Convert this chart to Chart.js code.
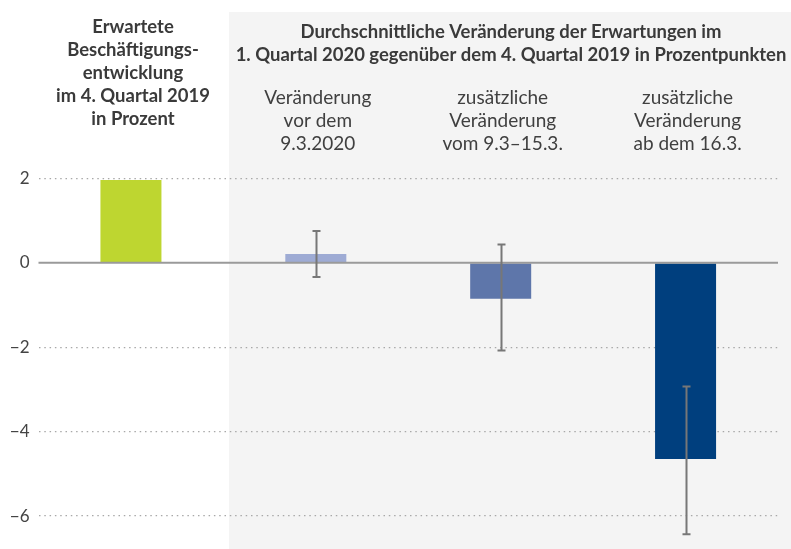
<!DOCTYPE html>
<html>
<head>
<meta charset="utf-8">
<script src="https://cdn.jsdelivr.net/npm/chart.js@4.4.1/dist/chart.umd.min.js"></script>
<style>
  html, body { margin: 0; padding: 0; background: #ffffff; }
  #wrap { width: 791px; height: 549px; position: relative; }
</style>
</head>
<body>
<div id="wrap"><canvas id="c"></canvas></div>
<script>
// ---- data ----
const categories = ['Erwartete Beschäftigungsentwicklung', 'Veränderung vor dem 9.3.2020', 'zusätzliche Veränderung vom 9.3–15.3.', 'zusätzliche Veränderung ab dem 16.3.'];
const values = [1.96, 0.21, -0.85, -4.65];
const errLow = [null, -0.34, -2.08, -6.43];
const errHigh = [null, 0.75, 0.43, -2.93];
const barColors = ['#bed630', '#9eabd4', '#5e76aa', '#003f7e'];
const yTicks = [2, 0, -2, -4, -6];
const leftHeader = ['Erwartete', 'Beschäftigungs-', 'entwicklung', 'im 4. Quartal 2019', 'in Prozent'];
const panelTitle = ['Durchschnittliche Veränderung der Erwartungen im', '1. Quartal 2020 gegenüber dem 4. Quartal 2019 in Prozentpunkten'];
const catLabels = [null, ['Veränderung', 'vor dem', '9.3.2020'], ['zusätzliche', 'Veränderung', 'vom 9.3–15.3.'], ['zusätzliche', 'Veränderung', 'ab dem 16.3.']];

const FAMILY = 'Lato, "Noto Sans", sans-serif';

function fitSize(ctx, text, weight, targetW, base) {
  ctx.font = weight + ' ' + base + 'px ' + FAMILY;
  const w = ctx.measureText(text).width;
  return base * targetW / w;
}

const decor = {
  id: 'decor',
  beforeDraw(chart) {
    const ctx = chart.ctx;
    ctx.save();
    ctx.fillStyle = '#ffffff';
    ctx.fillRect(0, 0, chart.width, chart.height);
    ctx.fillStyle = '#f4f4f4';
    ctx.fillRect(229, 12, chart.width - 229, chart.height - 12);
    ctx.restore();
  },
  afterDatasetsDraw(chart) {
    const ctx = chart.ctx;
    const y = chart.scales.y, x = chart.scales.x;
    const a = chart.chartArea;
    ctx.save();
    const y0 = y.getPixelForValue(0);
    ctx.strokeStyle = '#9a9a9a';
    ctx.lineWidth = 2;
    ctx.beginPath();
    ctx.moveTo(a.left, y0);
    ctx.lineTo(a.right, y0);
    ctx.stroke();
    ctx.strokeStyle = '#777777';
    ctx.lineWidth = 2;
    for (let i = 0; i < values.length; i++) {
      if (errLow[i] === null) continue;
      const cx = Math.round(x.getPixelForValue(i)) + 0.5;
      const yl = y.getPixelForValue(errLow[i]);
      const yh = y.getPixelForValue(errHigh[i]);
      ctx.beginPath();
      ctx.moveTo(cx, yh); ctx.lineTo(cx, yl);
      ctx.moveTo(cx - 4, yh); ctx.lineTo(cx + 4, yh);
      ctx.moveTo(cx - 4, yl); ctx.lineTo(cx + 4, yl);
      ctx.stroke();
    }
    ctx.restore();
  },
  afterDraw(chart) {
    const ctx = chart.ctx;
    const x = chart.scales.x;
    ctx.save();
    ctx.textAlign = 'center';
    ctx.textBaseline = 'alphabetic';
    const bs = fitSize(ctx, panelTitle[1], 'bold', 551, 16);
    ctx.font = 'bold ' + bs.toFixed(2) + 'px ' + FAMILY;
    ctx.fillStyle = '#3a3a3a';
    const leftBase = [33, 56, 79, 102, 125];
    leftHeader.forEach((t, i) => ctx.fillText(t, 133, leftBase[i]));
    ctx.fillText(panelTitle[0], 511, 38);
    ctx.fillText(panelTitle[1], 511, 61);
    const rs = fitSize(ctx, 'Veränderung', 'normal', 107, 17);
    ctx.font = 'normal ' + rs.toFixed(2) + 'px ' + FAMILY;
    ctx.fillStyle = '#404040';
    const catBase = [103.5, 126.5, 149.5];
    catLabels.forEach((lines, i) => {
      if (!lines) return;
      const cx = x.getPixelForValue(i) + 2;
      lines.forEach((t, j) => ctx.fillText(t, cx, catBase[j]));
    });
    ctx.restore();
  }
};

new Chart(document.getElementById('c'), {
  type: 'bar',
  data: {
    labels: categories,
    datasets: [{
      data: values,
      backgroundColor: barColors,
      borderWidth: 0,
      barPercentage: 0.33,
      categoryPercentage: 1.0
    }]
  },
  options: {
    responsive: true,
    maintainAspectRatio: false,
    animation: false,
    events: [],
    layout: { padding: { top: 160, right: 13, bottom: 0, left: 0 } },
    plugins: { legend: { display: false }, tooltip: { enabled: false }, title: { display: false } },
    scales: {
      x: { display: false, offset: true },
      y: {
        min: -6.78,
        max: 2.434,
        afterBuildTicks(scale) { scale.ticks = yTicks.map(v => ({ value: v })); },
        afterFit(scale) { scale.width = 38.5; scale.paddingTop = 0; scale.paddingBottom = 0; },
        grid: {
          drawTicks: false,
          color: (c) => (c.tick && c.tick.value === 0) ? 'rgba(0,0,0,0)' : '#a8a8a8',
          lineWidth: 1.3
        },
        border: { display: false, dash: [1.5, 3.8] },
        ticks: {
          padding: 9,
          color: '#444444',
          font: { family: FAMILY, size: 17 },
          callback: (v) => v < 0 ? '\u2212' + Math.abs(v) : String(v)
        }
      }
    }
  },
  plugins: [decor]
});
</script>
</body>
</html>
